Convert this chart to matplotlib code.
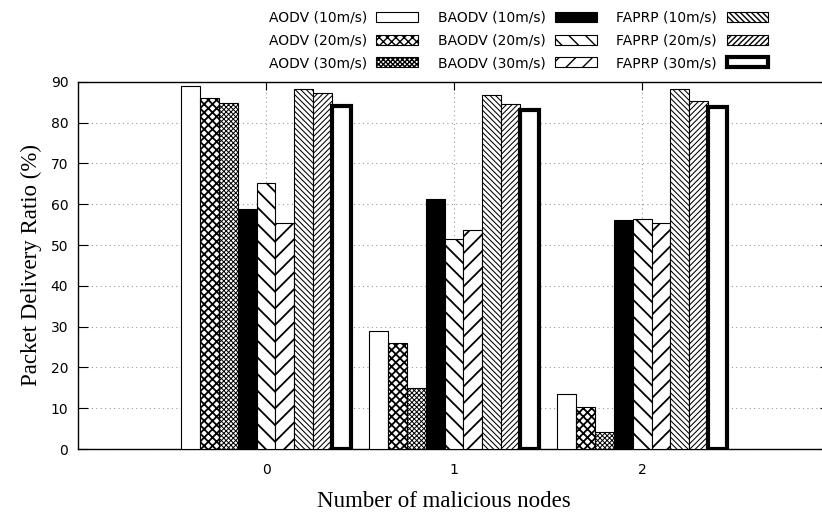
import numpy as np
import matplotlib
matplotlib.use("Agg")
import matplotlib.pyplot as plt
from matplotlib.patches import Patch

# Packet delivery ratio (%) for each protocol / node speed, by number of malicious nodes
malicious_nodes = ["0", "1", "2"]
series_labels = [
    "AODV (10m/s)", "AODV (20m/s)", "AODV (30m/s)",
    "BAODV (10m/s)", "BAODV (20m/s)", "BAODV (30m/s)",
    "FAPRP (10m/s)", "FAPRP (20m/s)", "FAPRP (30m/s)",
]
aodv_10 = [89.1, 28.9, 13.6]
aodv_20 = [86.1, 26.0, 10.3]
aodv_30 = [84.9, 14.9, 4.1]
baodv_10 = [58.9, 61.3, 56.1]
baodv_20 = [65.3, 51.4, 56.4]
baodv_30 = [55.5, 53.8, 55.4]
faprp_10 = [88.2, 86.8, 88.2]
faprp_20 = [87.2, 84.7, 85.2]
faprp_30 = [84.2, 83.2, 83.8]

series_values = [aodv_10, aodv_20, aodv_30,
                 baodv_10, baodv_20, baodv_30,
                 faprp_10, faprp_20, faprp_30]

# fill, hatch, hatch line width, edge width for each series
styles = [
    dict(facecolor="white", hatch="", hlw=1.0, linewidth=0.8),
    dict(facecolor="white", hatch="x" * 4, hlw=1.3, linewidth=0.8),
    dict(facecolor="white", hatch="x" * 7, hlw=0.7, linewidth=0.8),
    dict(facecolor="black", hatch="", hlw=1.0, linewidth=0.8),
    dict(facecolor="white", hatch="\\" * 2, hlw=1.3, linewidth=0.8),
    dict(facecolor="white", hatch="/" * 2, hlw=1.3, linewidth=0.8),
    dict(facecolor="white", hatch="\\" * 6, hlw=0.75, linewidth=0.8),
    dict(facecolor="white", hatch="/" * 6, hlw=0.75, linewidth=0.8),
    dict(facecolor="white", hatch="", hlw=1.0, linewidth=3.0),
]

plt.rcParams["hatch.color"] = "#333333"
plt.rcParams["font.family"] = "DejaVu Sans"


def patch_kw(st):
    return {k: v for k, v in st.items() if k != "hlw"}


def apply_hatch_lw(patch, lw):
    if hasattr(patch, "set_hatch_linewidth"):
        patch.set_hatch_linewidth(lw)


fig = plt.figure(figsize=(8.22, 5.15), dpi=100)
ax = fig.add_axes([0.0949, 0.128, 0.915, 0.713])

x = np.arange(len(malicious_nodes))
bar_w = 0.1
n = len(series_values)
for i, (vals, st) in enumerate(zip(series_values, styles)):
    offs = (i - (n - 1) / 2) * bar_w
    with plt.rc_context({"hatch.linewidth": st["hlw"]}):
        bars = ax.bar(x + offs, vals, width=bar_w, edgecolor="black",
                      zorder=3, **patch_kw(st))
    for b in bars:
        apply_hatch_lw(b, st["hlw"])

ax.set_xlim(-1, 3)
ax.set_ylim(0, 90)
ax.set_yticks(np.arange(0, 91, 10))
ax.set_xticks(x)
ax.set_xticklabels(malicious_nodes)

ax.tick_params(axis="both", direction="in", labelsize=10, colors="black",
               top=True, right=True)
ax.tick_params(axis="y", length=7, pad=7)
ax.tick_params(axis="x", length=6, pad=10)
for s in ax.spines.values():
    s.set_linewidth(1.0)

ax.grid(True, linestyle=(0, (1, 3)), color="#999999", linewidth=0.8, zorder=0)
ax.set_axisbelow(True)

ax.set_xlabel("Number of malicious nodes", family="Liberation Serif",
              fontsize=16.5)
ax.xaxis.set_label_coords(0.487, -0.115)
ax.set_ylabel("Packet Delivery Ratio (%)", family="Liberation Serif",
              fontsize=16.5, labelpad=6)

handles = []
for st in styles:
    with plt.rc_context({"hatch.linewidth": st["hlw"]}):
        h = Patch(edgecolor="black", **patch_kw(st))
    apply_hatch_lw(h, st["hlw"])
    handles.append(h)
fig.legend(handles, series_labels, ncol=3, loc="upper right",
           bbox_to_anchor=(0.945, 0.995), frameon=False, fontsize=10,
           markerfirst=False, handlelength=3.0, handleheight=0.75,
           handletextpad=0.7, columnspacing=1.4, labelspacing=0.62,
           borderaxespad=0.3, borderpad=0.3)

fig.savefig("out.png", dpi=100)
